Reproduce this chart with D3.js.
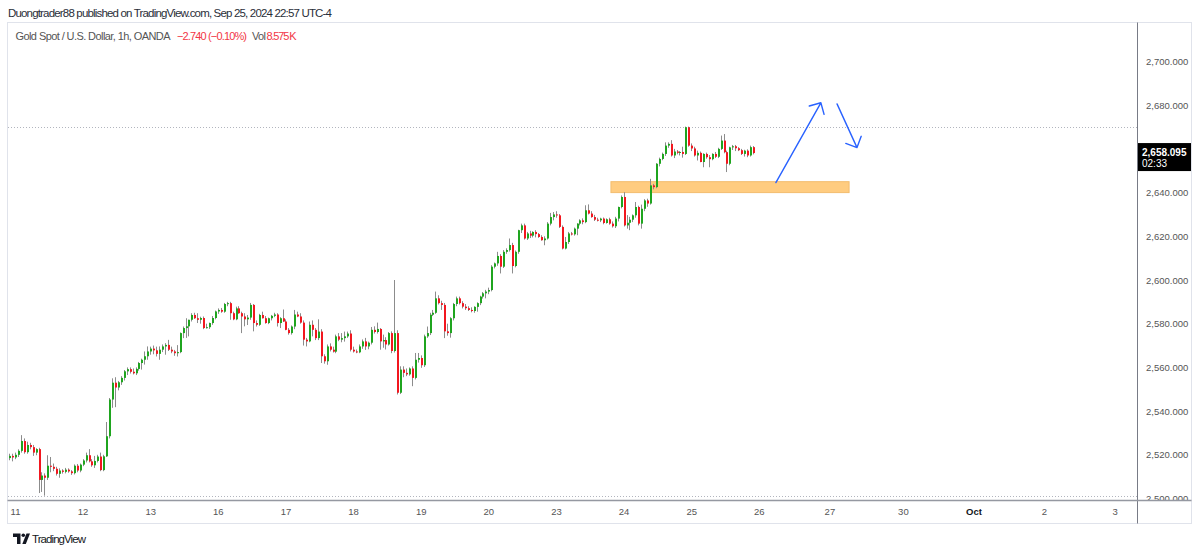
<!DOCTYPE html>
<html>
<head>
<meta charset="utf-8">
<script src="https://cdn.jsdelivr.net/npm/d3@7"></script>
<style>
  html, body { margin: 0; padding: 0; background: #fff; }
  svg { display: block; font-family: "Liberation Sans", Arial, sans-serif; }
</style>
</head>
<body>
<svg id="chart" width="1200" height="553"></svg>
<script>
// hourly XAUUSD bars [open, high, low, close], first bar = Sep 10 22:00 (index -2)
const firstIndex = -2;
const ohlc = [
  [2518.5,2520.5,2517.5,2519.5],[2519.5,2520.5,2517,2518.8],[2518.8,2521,2518,2520],[2520,2522.5,2519,2521.8],
  [2521.8,2529,2521,2526.3],[2526.3,2527.5,2520.5,2521.2],[2521.2,2526,2520.5,2524.5],[2524.5,2525.5,2522.5,2523.5],
  [2523.5,2524.5,2519.5,2521],[2521,2523,2519.8,2522.6],[2522.6,2523.2,2502.5,2508.5],[2508.5,2512,2503,2510.5],
  [2510.5,2511.5,2501.3,2509.5],[2509.5,2519.8,2508.5,2515],[2515,2519,2512,2514.5],[2514.5,2516,2512.5,2513.6],
  [2513.6,2514.5,2510.5,2511.3],[2511.3,2513.8,2509.5,2512.8],[2512.8,2513.4,2511.4,2512.2],[2512.2,2514,2511.5,2513.2],
  [2513.2,2513.8,2511.8,2512.4],[2512.4,2513,2510.8,2511.6],[2511.6,2515.6,2511,2515],[2515,2515.8,2512,2512.8],
  [2512.8,2516,2512,2515.5],[2515.5,2518,2514.8,2517.4],[2517.4,2521,2516.5,2519.8],[2519.8,2522.6,2516.5,2517],
  [2517,2518,2514.5,2515.2],[2515.2,2519.5,2514,2517.2],[2517.2,2520,2516.5,2519.2],[2519.2,2521,2512.5,2513],
  [2513,2520,2512.5,2519.3],[2519.3,2535,2519,2528.5],[2528.5,2546,2527.5,2545.3],[2545.3,2555,2541.5,2553],
  [2553,2555.5,2541.8,2550.8],[2550.8,2553.8,2549.5,2553.2],[2553.2,2556,2552,2555.2],[2555.2,2558.8,2554,2558.2],
  [2558.2,2560,2556.5,2559.2],[2559.2,2560,2557.2,2558],[2558,2559.5,2556.8,2557.3],[2557.3,2560,2556.5,2559.3],
  [2559.3,2562.5,2558.5,2562],[2562,2564,2559,2563.5],
  // Sep 12 late / Sep 13 / Sep 16
  [2563.5,2567.3,2561.3,2565.1],[2565.1,2569.6,2563.5,2567.3],[2567.3,2569.5,2565.8,2568.6],[2568.6,2570,2566,2567.8],
  [2567.8,2569.5,2565,2566.2],[2566.2,2569.6,2563.5,2568.1],[2568.1,2570.5,2567,2569.6],[2569.6,2571.1,2565.8,2570.3],
  [2570.3,2572.6,2567.5,2568.1],[2568.1,2569.5,2566.5,2567.3],[2567.3,2568,2565.3,2566.5],[2566.5,2570.2,2565,2567],
  [2567,2576,2566.5,2575.7],[2575.7,2578.7,2573.4,2578],[2578,2582.5,2573.5,2578.8],[2578.8,2581.8,2574.2,2581.8],
  [2581.8,2584.8,2581,2584],[2584,2585,2582.2,2582.5],[2582.5,2584.8,2580.3,2581.8],[2581.8,2583.2,2580,2582.6],
  [2582.6,2583.3,2577.5,2578],[2578,2580,2577.8,2578.4],[2578.4,2580.5,2577.6,2580.3],[2580.3,2583.5,2579.5,2582.6],
  [2582.6,2586,2582,2585.6],[2585.6,2587,2584.5,2586.3],[2586.3,2587.2,2585,2585.5],[2585.5,2589.5,2585,2589],
  [2589,2590,2588,2589.4],[2589.4,2590,2581.8,2584.8],[2584.8,2585.5,2581.6,2582],[2582,2587.8,2581.6,2587],
  [2587,2588,2584.5,2584.8],[2584.8,2585.5,2575.7,2583.3],[2583.3,2584.8,2578.8,2582],[2582,2584,2579.4,2582.8],
  [2582.8,2589.5,2581.8,2588.6],[2588.6,2589,2576.5,2580.3],[2580.3,2581.5,2578.7,2579.5],[2579.5,2584.5,2579,2584],
  [2584,2585.5,2582.4,2582.5],[2582.5,2583.5,2580,2580.3],[2580.3,2582.8,2579.8,2582.5],[2582.5,2584,2581.5,2583.6],
  [2583.6,2585,2583,2584.2],[2584.2,2584.8,2578.7,2580.3],[2580.3,2583,2578,2582.5],[2582.5,2586.5,2580.8,2581],
  [2581,2582,2577,2577.2],[2577.2,2578,2575,2575.7],[2575.7,2579.2,2575,2578.7],[2578.7,2586.3,2577.5,2584.2],
  [2584.2,2585.5,2583,2583.3],[2583.3,2584.8,2580,2580.5],
  // Sep 17 / Sep 18 / Sep 19
  [2580.5,2581.5,2570,2572.7],[2572.7,2573.5,2569.6,2571.9],[2571.9,2581,2571.5,2579.5],[2579.5,2581.5,2574.2,2577.2],
  [2577.2,2578,2572.5,2573.4],[2573.4,2582,2572.5,2576.4],[2576.4,2577.5,2562,2565.1],[2565.1,2566,2561.7,2562.8],
  [2562.8,2570.5,2561.2,2569.6],[2569.6,2571,2567.3,2568.1],[2568.1,2569.5,2566.8,2567.2],[2567.2,2575,2566.5,2574.2],
  [2574.2,2575.7,2572,2572.7],[2572.7,2575.7,2571.5,2573.4],[2573.4,2576.4,2571.8,2574.2],[2574.2,2576.4,2573.5,2575.5],
  [2575.5,2577,2567.3,2568.1],[2568.1,2569.5,2566.8,2567.3],[2567.3,2568.2,2566.5,2566.9],[2566.9,2570.5,2566.5,2569.6],
  [2569.6,2572.8,2568.5,2571.9],[2571.9,2573.5,2568,2569.6],[2569.6,2571.8,2568.3,2571.3],[2571.3,2578.5,2570.5,2577.2],
  [2577.2,2578.8,2575.5,2576.2],[2576.2,2580.5,2575.5,2577.6],[2577.6,2578,2568.1,2571.9],[2571.9,2575,2569,2572.5],
  [2572.5,2573.8,2568.2,2570.5],[2570.5,2576.2,2570,2575.7],[2575.7,2576.5,2566.5,2567.5],[2567.5,2600,2566.8,2575.7],
  [2575.7,2577,2547.6,2548.4],[2548.4,2560.5,2547.8,2559],[2559,2560.5,2555.5,2557.5],[2557.5,2559.5,2556,2556.8],
  [2556.8,2560,2556.2,2559.5],[2559.5,2560.5,2551.4,2555.2],[2555.2,2566.6,2554.5,2563.5],[2563.5,2566.6,2562.2,2564.3],
  [2564.3,2565.5,2559.8,2561],[2561,2575,2560.2,2574.2],[2574.2,2578.7,2573.5,2575.7],[2575.7,2585,2574.8,2584.1],
  [2584.1,2586.3,2583.5,2585],[2585,2594.7,2584.5,2591.6],[2591.6,2593,2588.8,2589.4],[2589.4,2590.5,2586.3,2588.6],
  [2588.6,2589.5,2573.4,2576.5],[2576.5,2580,2574.5,2575.7],
  // Sep 19 late / Sep 20 / Sep 23
  [2575.7,2583,2573.6,2582.5],[2582.5,2589.5,2581.5,2589],[2589,2592.4,2588,2591.6],[2591.6,2592.4,2588.8,2589.4],
  [2589.4,2590.3,2587,2587.8],[2587.8,2589,2586.3,2587.1],[2587.1,2588,2585.8,2586.3],[2586.3,2587.5,2585.2,2585.8],
  [2585.8,2588,2585,2587.7],[2587.7,2589.8,2585.5,2589.4],[2589.4,2592.8,2588.5,2592.4],[2592.4,2594.5,2591.5,2593.9],
  [2593.9,2595.5,2591.6,2594.7],[2594.7,2596.5,2593.5,2595.4],[2595.4,2606.8,2594.8,2606.1],[2606.1,2608,2605.3,2607.6],
  [2607.6,2612.9,2606.5,2611],[2611,2611.8,2603,2606.1],[2606.1,2613.7,2605.5,2612.9],[2612.9,2614.5,2612,2613.7],
  [2613.7,2619,2613,2616],[2616,2617,2603,2606.4],[2606.4,2613.5,2605.8,2612.9],[2612.9,2623,2612,2622.8],
  [2622.8,2625.8,2621.5,2625],[2625,2625.8,2618.5,2619],[2619,2622,2618.3,2621.3],[2621.3,2622.5,2619.2,2620.3],
  [2620.3,2622.3,2619.5,2622],[2622,2622.8,2619.5,2621],[2621,2621.5,2619.3,2619.7],[2619.7,2620.5,2618,2618.2],
  [2618.2,2620,2615.9,2619],[2619,2626.5,2618.5,2625.8],[2625.8,2630.7,2625,2628.8],[2628.8,2631.1,2627.3,2630],
  [2630,2631.5,2628.5,2629.6],[2629.6,2630.2,2623.8,2624.3],[2624.3,2625,2614,2614.4],[2614.4,2619.7,2614,2617.4],
  [2617.4,2622,2616.5,2621.3],[2621.3,2622,2620.4,2620.9],[2620.9,2624,2620.3,2623.5],[2623.5,2626,2620.5,2625.8],
  [2625.8,2627.8,2625,2627.3],[2627.3,2628.2,2625.5,2626.5],[2626.5,2634.2,2626,2631.9],[2631.9,2634.6,2630,2630.4],
  [2630.4,2631.5,2628.5,2628.8],[2628.8,2629.8,2627,2627.6],[2627.6,2628.5,2626.8,2627.3],[2627.3,2628.5,2626.5,2628.1],
  [2628.1,2628.6,2625.5,2626.1],[2626.1,2628.2,2625.8,2627.8],[2627.8,2628.5,2625.3,2625.8],[2625.8,2626.8,2624,2624.6],
  // Sep 24 / Sep 25
  [2624.6,2628.9,2623.8,2628.1],[2628.1,2633.6,2626.8,2633.4],[2633.4,2638.7,2632.8,2638],[2638,2640.2,2624.5,2625],
  [2625,2629.7,2623.5,2626.2],[2626.2,2628.9,2622.8,2627.6],[2627.6,2630,2626.5,2629.6],[2629.6,2635.7,2628.5,2633.4],
  [2633.4,2634,2625,2625.8],[2625.8,2634.5,2623.5,2632.6],[2632.6,2637,2631.5,2636.4],[2636.4,2637.2,2633.5,2635],
  [2635,2646.3,2634.5,2643.3],[2643.3,2644,2641.5,2642.5],[2642.5,2653.5,2642,2653.2],[2653.2,2656,2652,2655.4],
  [2655.4,2658.3,2654.8,2657.7],[2657.7,2663,2656.8,2661.5],[2661.5,2663,2660.5,2662.3],[2662.3,2664,2656.5,2657],
  [2657,2660,2655.8,2658.8],[2658.8,2659.5,2657.5,2658.2],[2658.2,2659,2657,2658.6],[2658.6,2661,2656,2657.7],
  [2657.7,2670.2,2657.2,2669.9],[2669.9,2670.2,2661,2661.5],[2661.5,2662.5,2659,2660.2],[2660.2,2661,2656.5,2657],
  [2657,2659.2,2654.7,2658.2],[2658.2,2658.8,2653.9,2654],[2654,2658,2651.6,2657.7],[2657.7,2658.3,2655.5,2656.2],
  [2656.2,2657.2,2651.6,2655.3],[2655.3,2658,2654.8,2657.7],[2657.7,2658.6,2655.8,2656.4],[2656.4,2660.5,2655.8,2660],
  [2660,2666.1,2659.5,2663.8],[2663.8,2666.8,2658,2658.5],[2658.5,2659.2,2649.4,2653.2],[2653.2,2661,2652.5,2660.7],
  [2660.7,2661.8,2659.5,2661.2],[2661.2,2661.8,2659,2660.3],[2660.3,2660.8,2659,2659.4],[2659.4,2660,2657.2,2657.7],
  [2657.7,2659.6,2656.5,2659.2],[2659.2,2659.8,2656.2,2657],[2657,2661.5,2656.5,2660.8],[2660.8,2661.3,2657.5,2658.1]
];

const dayLabels = ['11','12','13','16','17','18','19','20','23','24','25','26','27','30','Oct','2','3'];
const dayTickIndex = [0,23,46,69,92,115,138,161,184,207,230,253,277,302,326,350,374];
const priceTicks = [2500,2520,2540,2560,2580,2600,2620,2640,2660,2680,2700];

const lastPrice = 2658.095;
const countdown = '02:33';

// drawings
const zoneIndex = [202.7, 283.7];
const zonePrice = [2640, 2645];
const arrowUp = [[258.8, 2644.6], [274.1, 2681.1]];
const arrowDown = [[279.6, 2680.6], [286.4, 2660.6]];

const titleText = 'Duongtrader88 published on TradingView.com, Sep 25, 2024 22:57 UTC-4';
const symbolText = 'Gold Spot / U.S. Dollar, 1h, OANDA';
const changeText = '\u22122.740 (\u22120.10%)';
const volText = '8.575\u2009K';

const paneLeft = 8, paneRight = 1137, paneTop = 23, paneBottom = 500;
const green = '#1fa51f', red = '#f2171f', wick = '#8c8c8c';

const svg = d3.select('#chart');

const x = d3.scaleLinear()
  .domain([0, 374])
  .range([15, 15 + 374 * 2.94]);
const y = d3.scaleLinear()
  .domain([2500, 2700])
  .range([498.5, 61.5]);

// header
svg.append('text')
  .attr('x', 8).attr('y', 17)
  .attr('font-size', 11.5).attr('fill', '#2a2e39')
  .attr('textLength', 324)
  .text(titleText);

// frame
svg.append('rect')
  .attr('x', 7.5).attr('y', 22.5)
  .attr('width', 1184).attr('height', 501)
  .attr('fill', 'none').attr('stroke', '#e0e3eb');

const defs = svg.append('defs');
defs.append('clipPath').attr('id', 'pane')
  .append('rect')
  .attr('x', paneLeft).attr('y', paneTop)
  .attr('width', paneRight - paneLeft).attr('height', paneBottom - paneTop);
defs.append('clipPath').attr('id', 'paxis')
  .append('rect')
  .attr('x', paneRight).attr('y', paneTop)
  .attr('width', 1192 - paneRight).attr('height', paneBottom - paneTop + 1);

const pane = svg.append('g').attr('clip-path', 'url(#pane)');

// high / low dotted lines
const hi = d3.max(ohlc, d => d[1]);
const lo = d3.min(ohlc, d => d[2]);
[hi, lo].forEach(v => {
  pane.append('line')
    .attr('x1', paneLeft).attr('x2', paneRight)
    .attr('y1', Math.round(y(v)) + 0.5).attr('y2', Math.round(y(v)) + 0.5)
    .attr('stroke', '#b2b5be').attr('stroke-dasharray', '1,2');
});

// zone
pane.append('rect')
  .attr('x', x(zoneIndex[0]))
  .attr('y', y(zonePrice[1]))
  .attr('width', x(zoneIndex[1]) - x(zoneIndex[0]))
  .attr('height', y(zonePrice[0]) - y(zonePrice[1]))
  .attr('fill', '#ffcc80')
  .attr('stroke', '#f3bd6e');

// candles
const bars = pane.selectAll('g.bar')
  .data(ohlc)
  .enter()
  .append('g')
  .attr('class', 'bar');

bars.append('line')
  .attr('x1', (d, i) => Math.round(x(firstIndex + i)) + 0.5)
  .attr('x2', (d, i) => Math.round(x(firstIndex + i)) + 0.5)
  .attr('y1', d => y(d[1]))
  .attr('y2', d => y(d[2]))
  .attr('stroke', wick);

bars.append('rect')
  .attr('x', (d, i) => Math.round(x(firstIndex + i)))
  .attr('width', 2)
  .attr('y', d => y(Math.max(d[0], d[3])))
  .attr('height', d => Math.max(1, Math.abs(y(d[0]) - y(d[3]))))
  .attr('fill', d => d[3] >= d[0] ? green : red);

// arrows
function drawArrow(pts) {
  const p0 = [x(pts[0][0]), y(pts[0][1])];
  const p1 = [x(pts[1][0]), y(pts[1][1])];
  const ang = Math.atan2(p0[1] - p1[1], p0[0] - p1[0]);
  const len = 12, spread = Math.PI / 4;
  const b1 = [p1[0] + len * Math.cos(ang + spread), p1[1] + len * Math.sin(ang + spread)];
  const b2 = [p1[0] + len * Math.cos(ang - spread), p1[1] + len * Math.sin(ang - spread)];
  pane.append('path')
    .attr('d', `M${p0}L${p1}M${b1}L${p1}L${b2}`)
    .attr('fill', 'none')
    .attr('stroke', '#2962ff')
    .attr('stroke-width', 1.4)
    .attr('stroke-linecap', 'round')
    .attr('stroke-linejoin', 'round');
}
drawArrow(arrowUp);
drawArrow(arrowDown);

// legend
svg.append('text').attr('x', 15.5).attr('y', 39.5)
  .attr('font-size', 11).attr('fill', '#555')
  .attr('textLength', 155).text(symbolText);
svg.append('text').attr('x', 177).attr('y', 39.5)
  .attr('font-size', 11).attr('fill', '#f23645')
  .attr('textLength', 70).text(changeText);
svg.append('text').attr('x', 252).attr('y', 39.5)
  .attr('font-size', 11).attr('fill', '#555')
  .attr('textLength', 14).text('Vol');
svg.append('text').attr('x', 266.5).attr('y', 39.5)
  .attr('font-size', 11).attr('fill', '#f23645')
  .attr('textLength', 30).text(volText);

// price axis
const yAxis = svg.append('g')
  .attr('clip-path', 'url(#paxis)')
  .append('g')
  .attr('transform', `translate(${paneRight + 3}, 0)`)
  .call(d3.axisRight(y).tickValues(priceTicks).tickFormat(d3.format(',.3f')).tickSize(0));
yAxis.select('.domain').remove();
yAxis.selectAll('text')
  .attr('x', 6)
  .attr('font-family', '"Liberation Sans", Arial, sans-serif')
  .attr('font-size', 9.5)
  .attr('fill', '#555');

// last price box
const ly = y(lastPrice);
svg.append('rect')
  .attr('x', paneRight + 1).attr('y', ly - 10)
  .attr('width', 53).attr('height', 28)
  .attr('fill', '#000');
svg.append('text')
  .attr('x', paneRight + 5).attr('y', ly + 3)
  .attr('font-size', 10).attr('font-weight', 'bold').attr('fill', '#fff')
  .text(d3.format(',.3f')(lastPrice));
svg.append('text')
  .attr('x', paneRight + 5).attr('y', ly + 14)
  .attr('font-size', 10).attr('fill', '#fff')
  .text(countdown);

// time axis
const xAxis = svg.append('g')
  .attr('transform', `translate(0, ${paneBottom})`)
  .call(d3.axisBottom(x).tickValues(dayTickIndex).tickFormat((d, i) => dayLabels[i]).tickSize(0));
xAxis.select('.domain').remove();
xAxis.selectAll('text')
  .attr('y', 8)
  .attr('font-family', '"Liberation Sans", Arial, sans-serif')
  .attr('font-size', 9.5)
  .attr('fill', d => d === 326 ? '#131722' : '#555')
  .attr('font-weight', d => d === 326 ? 'bold' : 'normal');

// separators
svg.append('line')
  .attr('x1', paneRight + 0.5).attr('x2', paneRight + 0.5)
  .attr('y1', 22.5).attr('y2', 523.5)
  .attr('stroke', '#787b86');
svg.append('line')
  .attr('x1', 7.5).attr('x2', 1191.5)
  .attr('y1', paneBottom + 0.5).attr('y2', paneBottom + 0.5)
  .attr('stroke', '#9598a1').attr('stroke-width', 1.5);

// logo
const logo = svg.append('g').attr('fill', '#131722');
logo.append('path').attr('d', 'M13,533.5H20.5V544H17V537H13Z');
logo.append('circle').attr('cx', 23.3).attr('cy', 535.3).attr('r', 1.8);
logo.append('path').attr('d', 'M26.5,533.5H30L25.8,544H22.3Z');
svg.append('text')
  .attr('x', 32).attr('y', 542.5)
  .attr('font-size', 11.5).attr('fill', '#131722')
  .attr('textLength', 54)
  .text('TradingView');
</script>
</body>
</html>
